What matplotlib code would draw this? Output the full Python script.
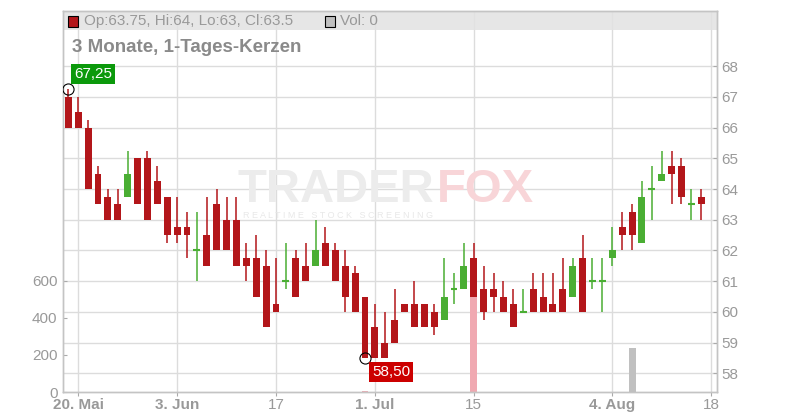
import numpy as np
import matplotlib
matplotlib.use("Agg")
import matplotlib.pyplot as plt
from matplotlib.patches import Rectangle
from matplotlib import transforms

plt.rcParams['font.family'] = ['Liberation Sans', 'DejaVu Sans']

# Kerzen-Daten (Open, High, Low, Close), 65 Handelstage
opens = [67, 66.5, 66, 64.5, 63.75, 63.5, 63.75, 65, 65, 64.25,
         63.75, 62.75, 62.75, 62, 62.5, 63.5, 63, 63, 61.75, 61.75,
         61.5, 60.25, 61, 61.75, 61.5, 61.5, 62.25, 62, 61.5, 61.25,
         60.5, 59.5, 59, 59.75, 60.25, 60.25, 60.25, 60, 59.75, 60.75,
         60.75, 61.75, 60.75, 60.75, 60.5, 60.25, 60, 60.75, 60.5, 60.25,
         60.75, 60.5, 61.75, 61, 61, 61.75, 62.75, 63.25, 62.25, 64,
         64.25, 64.75, 64.75, 63.5, 63.75]
highs = [67.25, 67, 66.25, 64.75, 64, 64, 65.25, 65, 65.25, 64.75,
         63.75, 63.75, 63.25, 63.25, 63.75, 64, 63.75, 63.75, 62.25, 62.5,
         62, 61.75, 62.25, 62, 62.25, 63, 62.75, 62.25, 62, 61.5,
         60.5, 60.25, 60, 60.75, 60.25, 61, 60.25, 60.25, 61.75, 61.25,
         62.25, 62.25, 61.5, 61.25, 61, 60.75, 60.75, 61.25, 61.25, 61.25,
         61.75, 61.75, 62.5, 61.75, 61.75, 62.75, 63.25, 63.5, 64.25, 64.75,
         65.25, 65.25, 65, 64, 64]
lows = [66, 66, 64, 63.5, 63, 63, 63.75, 63.5, 63, 63.5,
        62.25, 62.25, 61.75, 61, 61.5, 62, 62, 61.5, 61, 60.5,
        59.5, 60, 60.75, 60.5, 61, 61.5, 61.5, 61, 60, 60,
        58.5, 58.5, 58.5, 59, 60, 59.5, 59.5, 59.25, 59.75, 60.25,
        60.75, 60.5, 59.75, 60, 60, 59.5, 60, 60, 60, 60,
        60, 60.5, 60, 60.75, 60, 61.5, 62, 62, 62.25, 63,
        64.25, 63.5, 63.5, 63, 63]
closes = [66, 66, 64, 63.5, 63, 63, 64.5, 63.5, 63, 63.5,
          62.5, 62.5, 62.5, 62, 61.5, 62, 62, 61.5, 61.5, 60.5,
          59.5, 60, 61, 60.5, 61, 62, 61.5, 61, 60.5, 60,
          58.5, 58.5, 58.5, 59, 60, 59.5, 59.5, 59.5, 60.5, 60.75,
          61.5, 60.5, 60, 60.5, 60, 59.5, 60, 60, 60, 60,
          60, 61.5, 60, 61, 61, 62, 62.5, 62.5, 63.75, 64,
          64.5, 64.5, 63.75, 63.5, 63.5]
volumes = [0] * 65
volumes[30] = 8
volumes[41] = 600
volumes[57] = 236

tick_pos = [1, 11, 21, 31, 41, 55, 65]
tick_labels = ["20. Mai", "3. Jun", "17", "1. Jul", "15", "4. Aug", "18"]

o = np.array(opens); h = np.array(highs); l = np.array(lows); c = np.array(closes)
x = np.arange(len(o))

red = '#b3161a'
green = '#4aae33'
grid_c = '#dcdcdc'
txt_c = '#999999'

fig = plt.figure(figsize=(8, 4.2), dpi=100)
ax_vol = fig.add_axes([63/800, 28/420, 653.7/800, 381/420])
ax = ax_vol.twinx()
ax_vol.set_zorder(0)
ax.set_zorder(1)
ax.patch.set_visible(False)

ax_vol.set_xlim(-0.54, 65.56)
ax_vol.set_ylim(0, 2059)
ax.set_ylim(57.39, 69.80)

# Gitter hinter den Volumenbalken
price_levels = np.arange(58, 69)
blend = transforms.blended_transform_factory(ax_vol.transAxes, ax.transData)
ax_vol.hlines(price_levels, 0, 1, transform=blend, color=grid_c, lw=1, zorder=0)
for t in tick_pos:
    ax_vol.axvline(t, color=grid_c, lw=1, zorder=0)

# Legendenband oben
ax_vol.add_patch(Rectangle((0, 0.950), 1, 0.05, transform=ax_vol.transAxes,
                           fc='#e2e2e2', ec='none', alpha=0.85, zorder=0.5))

# Wasserzeichen
ax_vol.text(0.568, 0.53, "TRADER", transform=ax_vol.transAxes, ha='right', va='center',
            fontsize=34, fontweight='bold', color='#ececec', zorder=0.6)
ax_vol.text(0.572, 0.53, "FOX", transform=ax_vol.transAxes, ha='left', va='center',
            fontsize=34, fontweight='bold', color='#f8d5d8', zorder=0.6)
ax_vol.text(0.42, 0.462, "R E A L T I M E   S T O C K   S C R E E N I N G",
            transform=ax_vol.transAxes, ha='center', va='center',
            fontsize=6.5, color='#e8e8e8', zorder=0.6)

# Volumen
prev = np.concatenate([[c[0]], c[:-1]])
vcol = np.where(c < prev, '#f0a9b1', np.where(c > prev, '#a8d8a0', '#c0c0c0'))
ax_vol.bar(x, volumes, width=0.7, color=vcol, zorder=1)

# Kerzen
col = np.where(c < o, red, green)
ax.vlines(x, l, h, colors=col, lw=1.1, zorder=2)
body = np.abs(c - o)
ax.bar(x, body, bottom=np.minimum(o, c), width=0.7, color=col, zorder=3)
doji = body == 0
ax.hlines(c[doji], x[doji] - 0.35, x[doji] + 0.35, colors=green, lw=1.5, zorder=3)

# Hoch / Tief Markierungen
i_hi = int(np.argmax(h)); i_lo = int(np.argmin(l))
ax.plot(i_hi, h[i_hi], 'o', ms=8, mfc='none', mec='black', mew=0.8, zorder=5)
ax.plot(i_lo, l[i_lo], 'o', ms=8, mfc='none', mec='black', mew=0.8, zorder=5)
ax.annotate(f"{h[i_hi]:.2f}".replace('.', ','), (i_hi, h[i_hi]), xytext=(6, 15),
            textcoords='offset pixels', ha='left', va='center', color='white', fontsize=11,
            bbox=dict(boxstyle='square,pad=0.2', fc='#0b990b', ec='none'), zorder=6)
ax.annotate(f"{l[i_lo]:.2f}".replace('.', ','), (i_lo, l[i_lo]), xytext=(7, -14),
            textcoords='offset pixels', ha='left', va='center', color='white', fontsize=11,
            bbox=dict(boxstyle='square,pad=0.2', fc='#cc0000', ec='none'), zorder=6)

# Achsen
for a in (ax, ax_vol):
    for s in a.spines.values():
        s.set_color('#c4c4c4')
        s.set_linewidth(1)

ax.set_yticks(price_levels)
ax.tick_params(axis='y', direction='in', length=3, width=0.8, color='#aaaaaa',
               labelcolor=txt_c, labelsize=11, pad=3)
ax_vol.set_yticks([0, 200, 400, 600])
ax_vol.tick_params(axis='y', direction='in', length=3, width=0.8, color='#aaaaaa',
                   labelcolor=txt_c, labelsize=11, pad=4)
ax_vol.set_xticks(tick_pos)
ax_vol.set_xticklabels(tick_labels)
ax_vol.tick_params(axis='x', direction='out', length=3, width=0.8, color='#aaaaaa',
                   labelcolor=txt_c, labelsize=11, pad=1.5)
for lab in ax_vol.get_xticklabels():
    if '.' in lab.get_text():
        lab.set_fontweight('bold')

# Titel und Legende
fig.text(72/800, 1 - 47/420, "3 Monate, 1-Tages-Kerzen", fontsize=13.5, fontweight='bold',
         color='#8a8a8a', va='center', ha='left')
last_col = red if c[-1] < o[-1] else green
fig.add_artist(Rectangle((68/800, 1 - 27/420), 10/800, 11/420, transform=fig.transFigure,
                         fc=last_col, ec='black', lw=0.8))
fig.text(84/800, 1 - 21/420, f"Op:{o[-1]:g}, Hi:{h[-1]:g}, Lo:{l[-1]:g}, Cl:{c[-1]:g}",
         fontsize=11, color=txt_c, va='center', ha='left')
fig.add_artist(Rectangle((325/800, 1 - 27/420), 10/800, 11/420, transform=fig.transFigure,
                         fc='#c0c0c0', ec='black', lw=0.8))
fig.text(340/800, 1 - 21/420, f"Vol: {volumes[-1]}", fontsize=11, color=txt_c,
         va='center', ha='left')

fig.savefig("out.png", dpi=100)
